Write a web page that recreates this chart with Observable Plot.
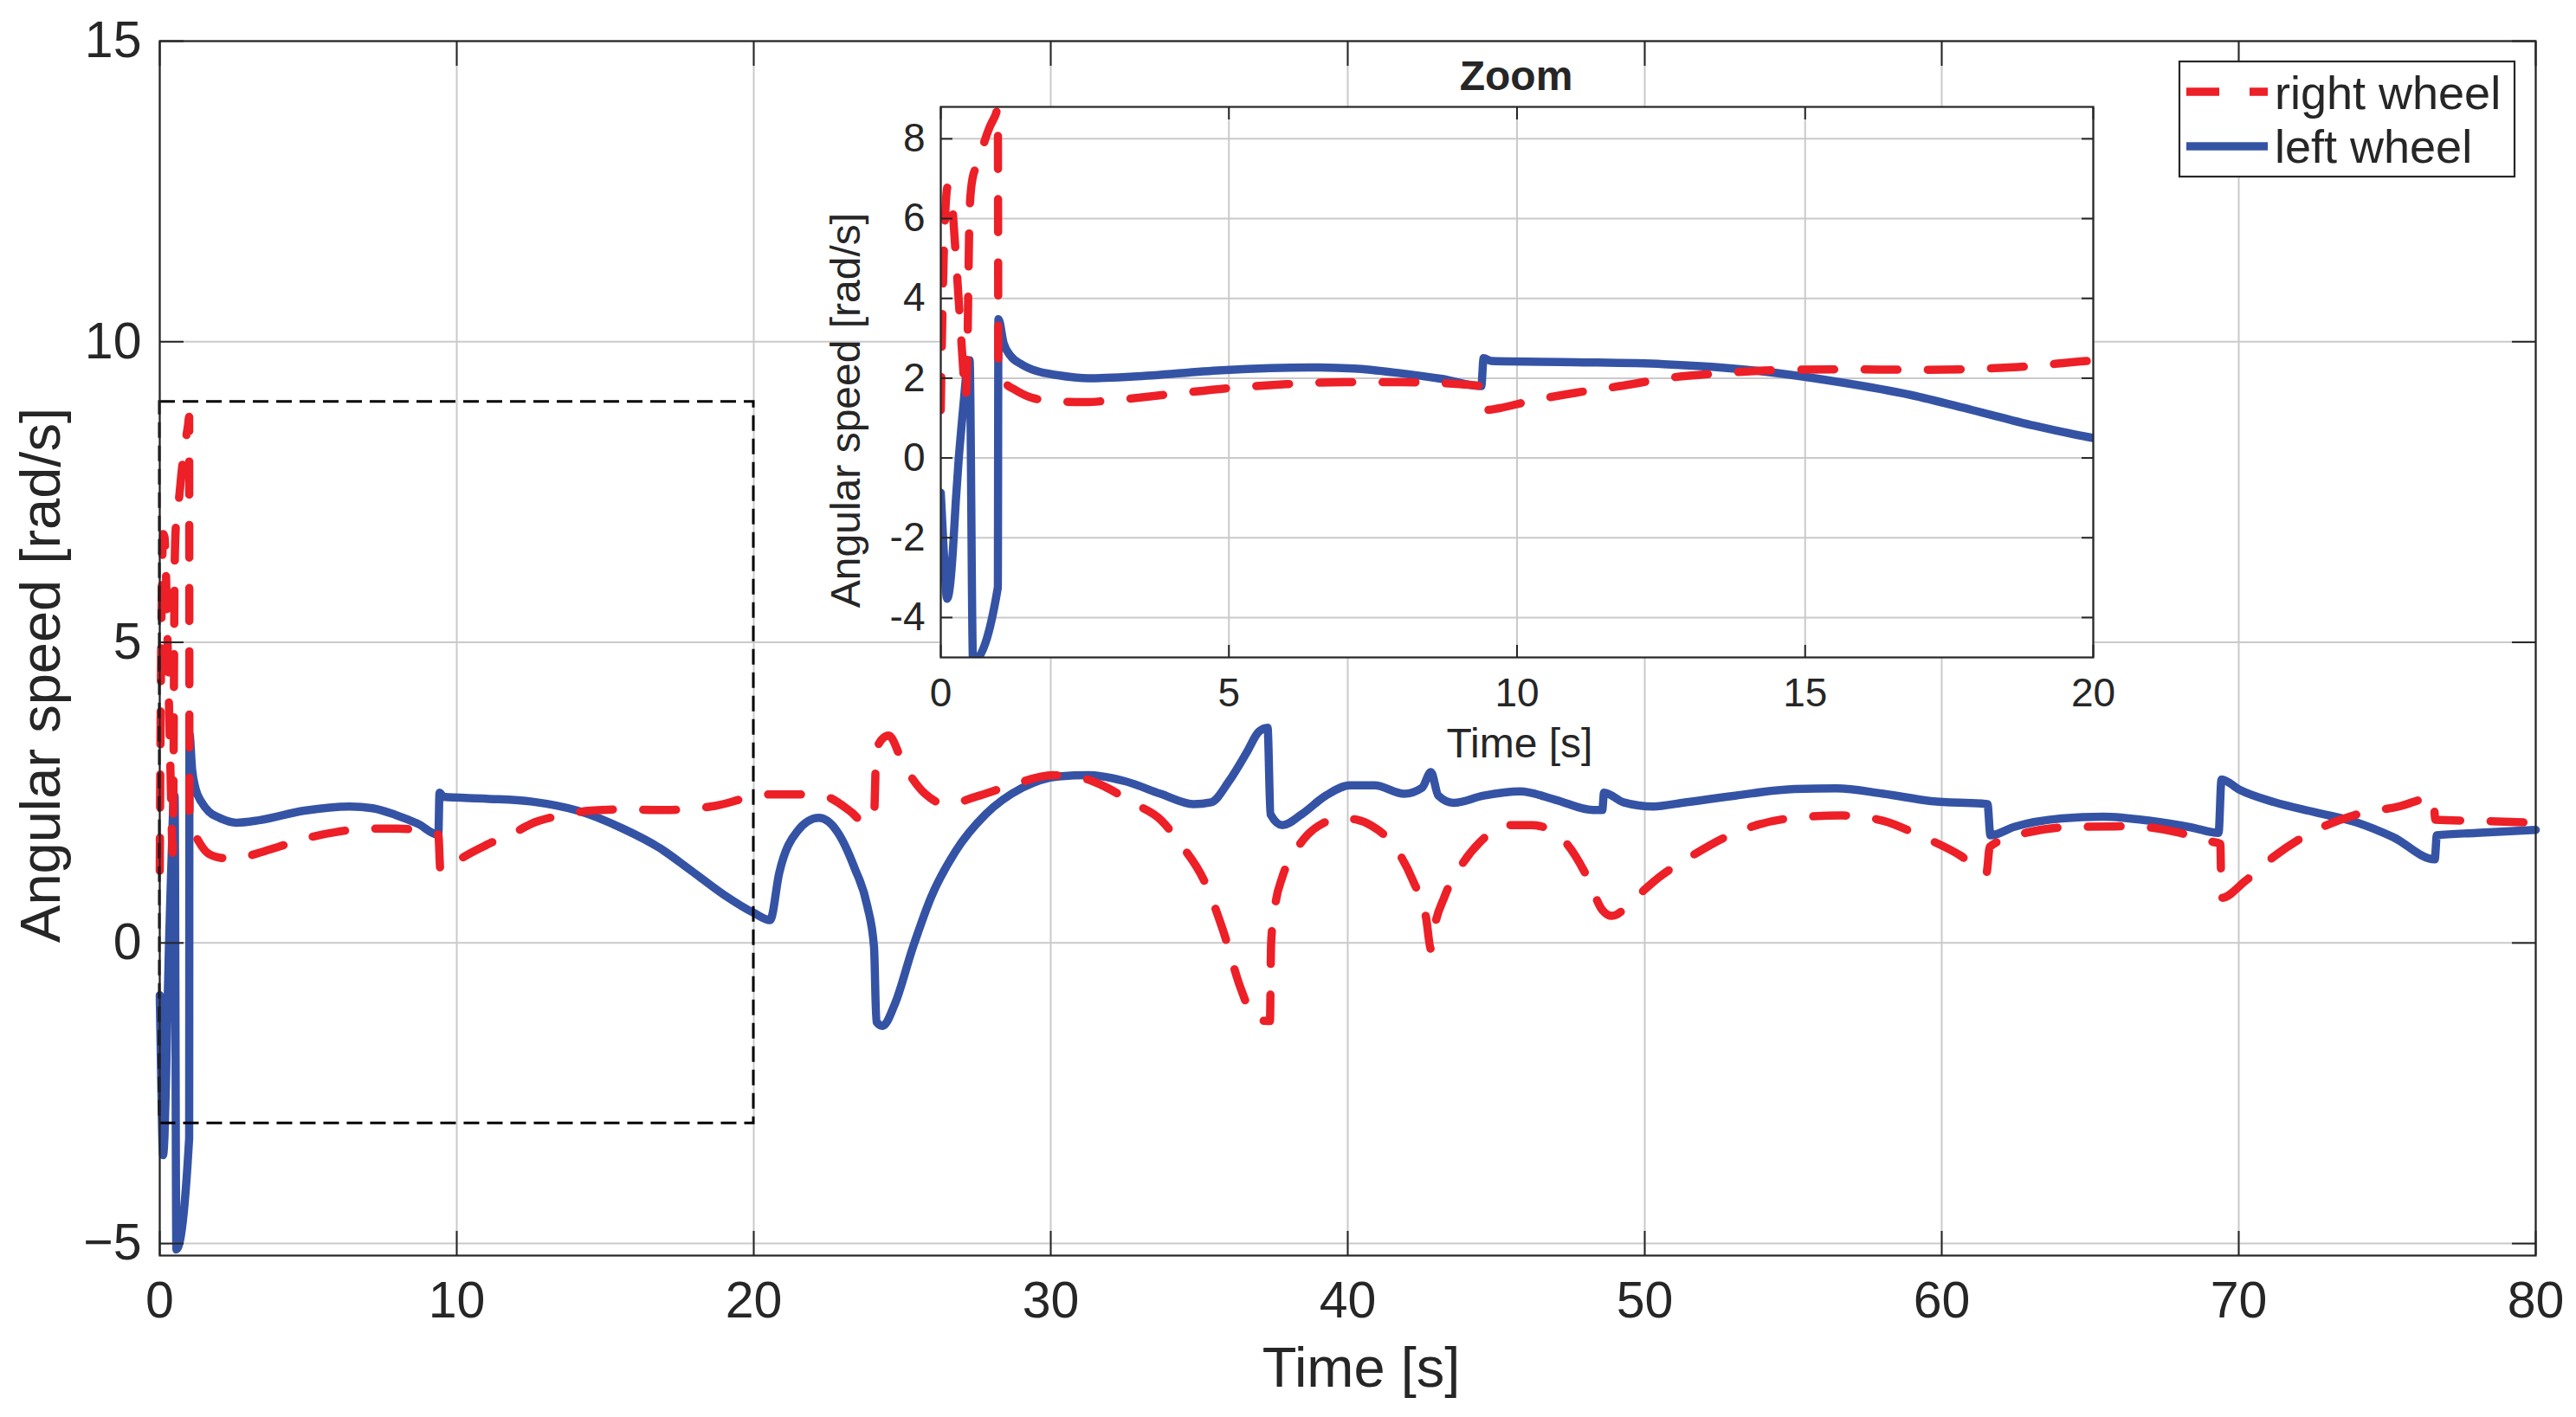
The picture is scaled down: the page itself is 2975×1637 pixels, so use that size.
<!DOCTYPE html>
<html>
<head>
<meta charset="utf-8">
<script src="https://cdn.jsdelivr.net/npm/d3@7"></script>
<script src="https://cdn.jsdelivr.net/npm/@observablehq/plot@0.6"></script>
<style>
  html, body { margin: 0; padding: 0; background: white; }
  #wrap { position: relative; width: 2975px; height: 1637px; overflow: hidden; font-family: "Liberation Sans", Arial, sans-serif; }
  #wrap svg { position: absolute; max-width: none; }
</style>
</head>
<body>
<div id="wrap"></div>
<script>
// ---- data ----
const rightT = [0, 0.02, 0.05, 0.08, 0.12, 0.16, 0.2, 0.25, 0.3, 0.35, 0.4, 0.43, 0.46, 0.48, 0.5, 0.55, 0.65, 0.75, 0.85, 0.95, 0.99, 1.0, 1.1, 1.3, 1.6, 2.0, 2.5, 3.0, 4.0, 5.0, 6.0, 7.0, 8.0, 9.0, 9.38, 9.45, 9.7, 10.2, 11, 12, 12.5, 13.5, 14.5, 15.6, 17, 18.7, 20, 20.5, 21.5, 22.3, 23.3, 23.72, 24.05, 24.13, 24.54, 25.05, 25.77, 26.48, 27.6, 28.83, 30.06, 30.9, 31.9, 32.72, 33.74, 34.36, 35.17, 35.8, 36.4, 36.9, 37.38, 37.42, 37.55, 37.8, 38.2, 38.65, 39.2, 39.7, 40.3, 40.8, 41.5, 42.2, 42.64, 42.8, 42.9, 43.25, 43.76, 44.48, 45.3, 46.2, 47.24, 48.06, 48.57, 48.9, 49.7, 50.5, 51.46, 52.85, 54.85, 56.65, 58.04, 59.24, 60.64, 61.5, 61.62, 62.83, 64.43, 66.43, 68.02, 69.02, 69.38, 69.42, 70.22, 71.22, 72.42, 74.0, 75.4, 76.55, 76.62, 78.0, 80];
const rightV = [1.2, 3.0, 5.0, 6.2, 6.8, 6.75, 6.3, 5.3, 4.2, 3.1, 2.0, 1.5, 2.5, 4.5, 6.2, 7.0, 7.4, 7.9, 8.3, 8.6, 8.75, 2.1, 1.9, 1.7, 1.5, 1.42, 1.4, 1.45, 1.6, 1.75, 1.85, 1.9, 1.9, 1.85, 1.8, 1.2, 1.25, 1.42, 1.63, 1.85, 1.98, 2.12, 2.2, 2.22, 2.21, 2.28, 2.44, 2.47, 2.47, 2.45, 2.17, 2.0, 2.12, 3.24, 3.45, 2.96, 2.48, 2.31, 2.45, 2.65, 2.79, 2.76, 2.58, 2.34, 2.03, 1.65, 1.03, 0.21, -0.76, -1.27, -1.3, 0.0, 0.6, 1.1, 1.5, 1.8, 2.0, 2.08, 2.05, 1.95, 1.65, 1.03, 0.41, -0.1, 0.21, 0.76, 1.24, 1.69, 1.96, 1.96, 1.72, 1.1, 0.55, 0.45, 0.76, 1.1, 1.41, 1.79, 2.07, 2.12, 2.03, 1.79, 1.45, 1.15, 1.6, 1.83, 1.93, 1.94, 1.83, 1.69, 1.65, 0.75, 1.03, 1.45, 1.83, 2.14, 2.27, 2.42, 2.05, 2.03, 2.0];

const leftT = [0, 0.05, 0.11, 0.16, 0.21, 0.26, 0.31, 0.36, 0.41, 0.47, 0.5, 0.56, 0.99, 1.0, 1.09, 1.21, 1.41, 1.66, 2.01, 2.57, 3.34, 4.87, 6.4, 7.17, 7.94, 8.7, 9.38, 9.42, 9.55, 11.0, 12.54, 14.07, 15.6, 16.83, 17.9, 18.97, 20, 20.55, 20.86, 21.47, 22.19, 22.8, 23.4, 23.82, 24.05, 24.13, 24.34, 24.74, 25.36, 25.97, 26.79, 27.81, 29.04, 30.27, 31.29, 32.5, 33.7, 34.8, 35.4, 36.0, 36.6, 37.0, 37.3, 37.4, 37.8, 38.45, 39.26, 40.08, 40.9, 41.9, 42.5, 42.8, 43.05, 43.56, 44.58, 45.8, 47.0, 48.26, 48.57, 48.63, 49.28, 50.3, 51.26, 53.05, 55.05, 56.45, 58.04, 59.64, 61.54, 61.64, 62.44, 64.03, 65.43, 67.03, 68.42, 69.32, 69.42, 70.02, 71.2, 72.6, 74.0, 75.2, 76.6, 76.67, 78.0, 80.0];
const leftV = [-0.87, -2.3, -3.53, -3.2, -2.33, -1.1, -0.05, 0.8, 1.6, 2.4, 2.45, -5.1, -3.25, 3.48, 2.88, 2.56, 2.34, 2.18, 2.08, 2.0, 2.04, 2.2, 2.27, 2.24, 2.13, 1.98, 1.8, 2.5, 2.43, 2.4, 2.35, 2.2, 1.9, 1.58, 1.2, 0.81, 0.5, 0.38, 1.17, 1.86, 2.08, 1.86, 1.24, 0.62, -0.07, -1.31, -1.38, -1.03, -0.07, 0.76, 1.52, 2.14, 2.58, 2.77, 2.79, 2.69, 2.48, 2.31, 2.34, 2.69, 3.17, 3.51, 3.58, 2.14, 1.96, 2.14, 2.45, 2.62, 2.62, 2.48, 2.58, 2.84, 2.45, 2.33, 2.45, 2.52, 2.38, 2.21, 2.21, 2.5, 2.34, 2.27, 2.33, 2.45, 2.56, 2.57, 2.48, 2.36, 2.31, 1.79, 1.93, 2.07, 2.1, 2.03, 1.92, 1.83, 2.72, 2.55, 2.34, 2.17, 2.0, 1.76, 1.39, 1.79, 1.83, 1.88];

const seriesNames = ["right wheel", "left wheel"];
const mainXTicks = [0, 10, 20, 30, 40, 50, 60, 70, 80];
const mainYTicks = [-5, 0, 5, 10, 15];
const insetXTicks = [0, 5, 10, 15, 20];
const insetYTicks = [-4, -2, 0, 2, 4, 6, 8];
const zoomBoxX = [0, 20];
const zoomBoxY = [-3, 9];

// ---- tables ----
const right = rightT.map((t, i) => ({t, v: rightV[i]}));
const left = leftT.map((t, i) => ({t, v: leftV[i]}));
const zoomBox = [{x1: zoomBoxX[0], x2: zoomBoxX[1], y1: zoomBoxY[0], y2: zoomBoxY[1]}];

const RED = "#ED1F27";
const BLUE = "#3553A5";
const INK = "#262626";
const GRID = "#cacaca";
const FONT = "Liberation Sans, Arial, sans-serif";
const DASH = "38,35";
const LW = 9.5;
const minusFmt = d => (d < 0 ? "\u2212" + Math.abs(d) : String(d));

const wrap = document.getElementById("wrap");

// ---- main chart ----
const main = Plot.plot({
  width: 2975, height: 1637,
  marginLeft: 184, marginRight: 47, marginTop: 47, marginBottom: 187,
  style: {fontFamily: FONT, color: INK, background: "transparent", overflow: "visible"},
  x: {domain: [0, 80]},
  y: {domain: [-5.2, 15]},
  marks: [
    Plot.gridX(mainXTicks, {stroke: GRID, strokeOpacity: 1, strokeWidth: 2}),
    Plot.gridY(mainYTicks, {stroke: GRID, strokeOpacity: 1, strokeWidth: 2}),
    Plot.line(left, {x: "t", y: "v", curve: "monotone-x", stroke: BLUE, strokeWidth: LW, strokeLinejoin: "round", strokeLinecap: "round"}),
    Plot.line(right, {x: "t", y: "v", curve: "monotone-x", stroke: RED, strokeWidth: LW, strokeDasharray: DASH, strokeLinejoin: "round"}),
    Plot.rect(zoomBox, {x1: "x1", x2: "x2", y1: "y1", y2: "y2", fill: "none", stroke: "black", strokeWidth: 3, strokeDasharray: "18,9"}),
    Plot.axisX(mainXTicks, {anchor: "bottom", tickSize: -28, fill: "none", stroke: INK, strokeWidth: 2}),
    Plot.axisX(mainXTicks, {anchor: "top", tickSize: -28, fill: "none", stroke: INK, strokeWidth: 2}),
    Plot.axisY(mainYTicks, {anchor: "left", tickSize: -28, fill: "none", stroke: INK, strokeWidth: 2}),
    Plot.axisY(mainYTicks, {anchor: "right", tickSize: -28, fill: "none", stroke: INK, strokeWidth: 2}),
    Plot.axisX(mainXTicks, {anchor: "bottom", tickSize: 0, tickPadding: 30, fontSize: 59, fill: INK, label: null, tickFormat: minusFmt}),
    Plot.axisY(mainYTicks, {anchor: "left", tickSize: 0, tickPadding: 21, fontSize: 59, fill: INK, label: null, tickFormat: minusFmt}),
    Plot.frame({stroke: INK, strokeWidth: 2.2})
  ]
});
main.style.left = "0px"; main.style.top = "0px";
wrap.appendChild(main);

const ms = d3.select(main);
ms.append("text").text("Time [s]")
  .attr("x", 1572).attr("y", 1602).attr("text-anchor", "middle")
  .attr("font-size", 65).attr("font-family", FONT).attr("fill", INK);
ms.append("text").text("Angular speed [rad/s]")
  .attr("transform", "translate(69,780) rotate(-90)").attr("text-anchor", "middle")
  .attr("font-size", 65).attr("font-family", FONT).attr("fill", INK);

// legend
const lg = ms.append("g");
lg.append("rect").attr("x", 2517).attr("y", 71).attr("width", 387).attr("height", 133)
  .attr("fill", "white").attr("stroke", INK).attr("stroke-width", 2.2);
[[RED, DASH, 106, 126], [BLUE, null, 169, 188]].forEach(([c, dash, ly, ty], i) => {
  const l = lg.append("line").attr("x1", 2525).attr("x2", 2619).attr("y1", ly).attr("y2", ly)
    .attr("stroke", c).attr("stroke-width", LW);
  if (dash) l.attr("stroke-dasharray", dash);
  lg.append("text").text(seriesNames[i]).attr("x", 2627).attr("y", ty)
    .attr("text-anchor", "start")
    .attr("font-size", 54).attr("font-family", FONT).attr("fill", INK);
});

// ---- inset chart ----
const IX = 940, IY = 40;
const inset = Plot.plot({
  width: 1500, height: 870,
  marginLeft: 146, marginRight: 23, marginTop: 83, marginBottom: 151,
  style: {fontFamily: FONT, color: INK, background: "transparent", overflow: "visible"},
  x: {domain: [0, 20]},
  y: {domain: [-5, 8.8]},
  marks: [
    Plot.frame({fill: "white", stroke: "none"}),
    Plot.gridX(insetXTicks, {stroke: GRID, strokeOpacity: 1, strokeWidth: 2}),
    Plot.gridY(insetYTicks, {stroke: GRID, strokeOpacity: 1, strokeWidth: 2}),
    Plot.line(left, {x: "t", y: "v", filter: d => d.t <= 20.6, curve: "monotone-x", stroke: BLUE, strokeWidth: LW, strokeLinejoin: "round", strokeLinecap: "round", clip: true}),
    Plot.line(right, {x: "t", y: "v", filter: d => d.t <= 20.6, curve: "monotone-x", stroke: RED, strokeWidth: LW, strokeDasharray: DASH, strokeLinejoin: "round", clip: true}),
    Plot.axisX(insetXTicks, {anchor: "bottom", tickSize: -14, fill: "none", stroke: INK, strokeWidth: 2}),
    Plot.axisX(insetXTicks, {anchor: "top", tickSize: -14, fill: "none", stroke: INK, strokeWidth: 2}),
    Plot.axisY(insetYTicks, {anchor: "left", tickSize: -14, fill: "none", stroke: INK, strokeWidth: 2}),
    Plot.axisY(insetYTicks, {anchor: "right", tickSize: -14, fill: "none", stroke: INK, strokeWidth: 2}),
    Plot.axisX(insetXTicks, {anchor: "bottom", tickSize: 0, tickPadding: 24, fontSize: 46, fill: INK, label: null, tickFormat: d => String(d)}),
    Plot.axisY(insetYTicks, {anchor: "left", tickSize: 0, tickPadding: 18, fontSize: 46, fill: INK, label: null, tickFormat: d => String(d)}),
    Plot.frame({stroke: INK, strokeWidth: 2.2})
  ]
});
inset.style.left = IX + "px"; inset.style.top = IY + "px";
wrap.appendChild(inset);

const is = d3.select(inset);
is.append("text").text("Zoom")
  .attr("x", 1751 - IX).attr("y", 104 - IY).attr("text-anchor", "middle")
  .attr("font-size", 48).attr("font-weight", "bold").attr("font-family", FONT).attr("fill", INK);
is.append("text").text("Time [s]")
  .attr("x", 1755 - IX).attr("y", 875 - IY).attr("text-anchor", "middle")
  .attr("font-size", 48).attr("font-family", FONT).attr("fill", INK);
is.append("text").text("Angular speed [rad/s]")
  .attr("transform", `translate(${993 - IX},${474 - IY}) rotate(-90)`).attr("text-anchor", "middle")
  .attr("font-size", 48).attr("font-family", FONT).attr("fill", INK);
</script>
</body>
</html>
